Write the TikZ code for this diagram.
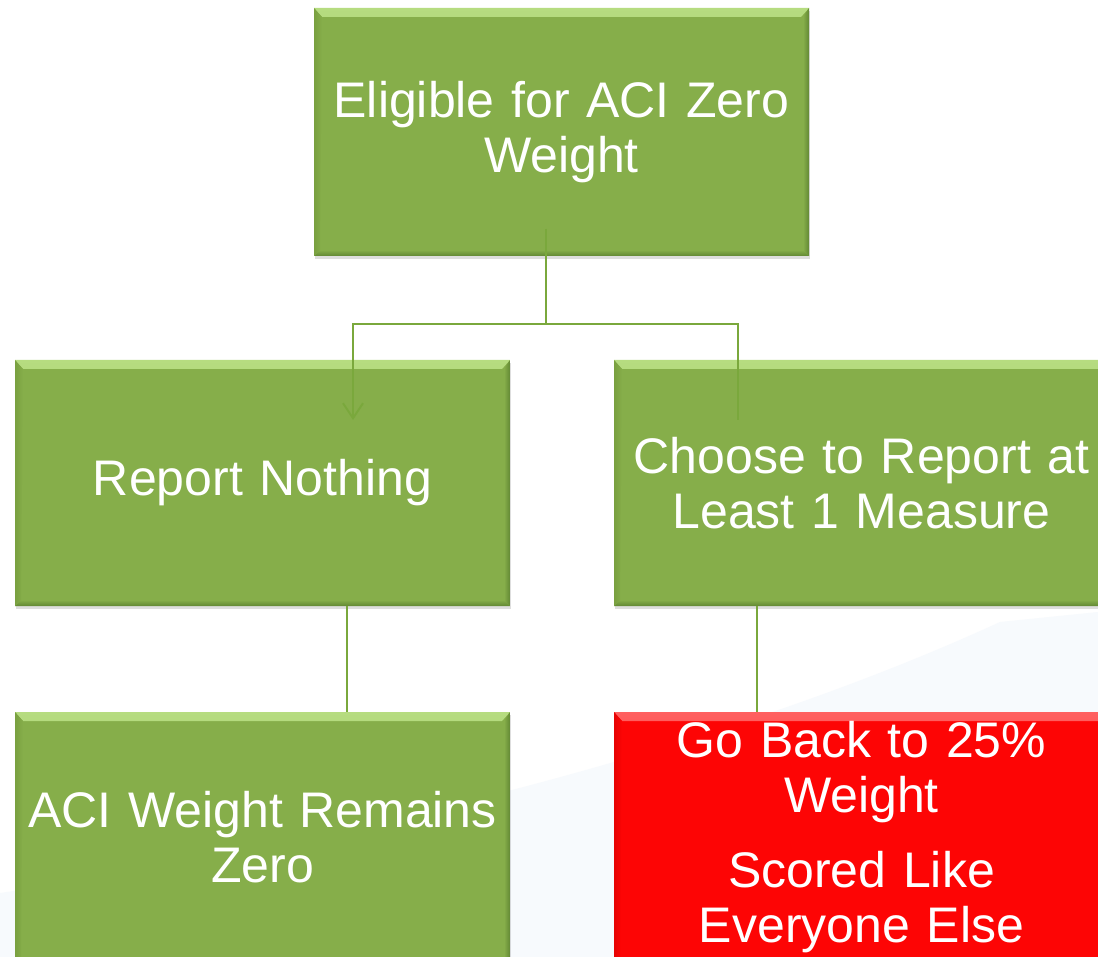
\documentclass[tikz,border=0pt]{standalone}
\usepackage{fontspec}
\setmainfont{Liberation Sans}
\usetikzlibrary{arrows.meta,shadows}
\definecolor{boxgreen}{HTML}{86AE4A}
\definecolor{greenlight}{HTML}{B6DC80}
\definecolor{greenleft}{HTML}{79A040}
\definecolor{greendark}{HTML}{628834}
\definecolor{boxred}{HTML}{FD0505}
\definecolor{redlight}{HTML}{FF6060}
\definecolor{redleft}{HTML}{E60303}
\definecolor{reddark}{HTML}{C00000}
\definecolor{linegreen}{HTML}{7AA83C}
\definecolor{bgblue}{HTML}{F7FAFD}
\tikzset{
  bevelbox/.style n args={5}{
    draw=none, fill=#1, minimum width=495pt, minimum height=#5,
    text width=485pt, align=center, text=white, inner sep=0pt,
    font=\fontsize{50}{55}\selectfont,
    drop shadow={shadow xshift=1pt, shadow yshift=-3pt, opacity=0.13, fill=black},
    path picture={
      \shade[top color=#2, bottom color=#1] (path picture bounding box.north west) -- (path picture bounding box.north east)
        -- ([xshift=-8pt,yshift=-9pt]path picture bounding box.north east)
        -- ([xshift=8pt,yshift=-9pt]path picture bounding box.north west) -- cycle;
      \shade[left color=#1, right color=#3] (path picture bounding box.north east) -- (path picture bounding box.south east)
        -- ([xshift=-6pt,yshift=6pt]path picture bounding box.south east)
        -- ([xshift=-6pt,yshift=-9pt]path picture bounding box.north east) -- cycle;
      \shade[top color=#1, bottom color=#3] (path picture bounding box.south west) -- (path picture bounding box.south east)
        -- ([xshift=-6pt,yshift=6pt]path picture bounding box.south east)
        -- ([xshift=6pt,yshift=6pt]path picture bounding box.south west) -- cycle;
      \shade[left color=#4, right color=#1] (path picture bounding box.north west) -- (path picture bounding box.south west)
        -- ([xshift=6pt,yshift=6pt]path picture bounding box.south west)
        -- ([xshift=8pt,yshift=-9pt]path picture bounding box.north west) -- cycle;
    }},
  greenbox/.style={bevelbox={boxgreen}{greenlight}{greendark}{greenleft}{#1}},
  redbox/.style={bevelbox={boxred}{redlight}{reddark}{redleft}{#1}},
  conn/.style={draw=linegreen, line width=2pt},
}
\begin{document}
\begin{tikzpicture}[x=1pt,y=-1pt]
\useasboundingbox (0,0) rectangle (1098,957);
\clip (0,0) rectangle (1098,957);
\fill[white] (0,0) rectangle (1098,957);
\fill[bgblue] (0,957) -- (0,893) .. controls (300,850) and (700,760) .. (1000,622) -- (1098,612) -- (1098,957) -- cycle;

\node[greenbox=248pt] (top) at (561.5,132) {Eligible for ACI Zero\\Weight};
\node[greenbox=246pt] (rn) at (262.5,483) {Report Nothing};
\node[greenbox=246pt] (ch) at (861.5,483) {Choose to Report at\\Least 1 Measure};
\node[greenbox=250pt] (aci) at (262.5,837) {ACI Weight Remains\\Zero};
\node[redbox=250pt] (go) at (861.5,837) {Go Back to 25\%\\Weight\\[20pt]Scored Like\\Everyone Else};

\coordinate (s0) at (546,229);
\coordinate (jn) at (546,324);
\coordinate (lend) at (353,420);
\coordinate (rend) at (738,420);
\coordinate (lx) at (347,0);
\coordinate (rx) at (757,0);

\draw[conn] (s0) -- (jn);
\draw[conn,-{Straight Barb[length=15pt,width=20pt,line width=2pt]}] (jn) -| (lend);
\draw[conn] (jn) -| (rend);
\draw[conn] (rn.south -| lx) -- (aci.north -| lx);
\draw[conn] (ch.south -| rx) -- (go.north -| rx);
\end{tikzpicture}
\end{document}
